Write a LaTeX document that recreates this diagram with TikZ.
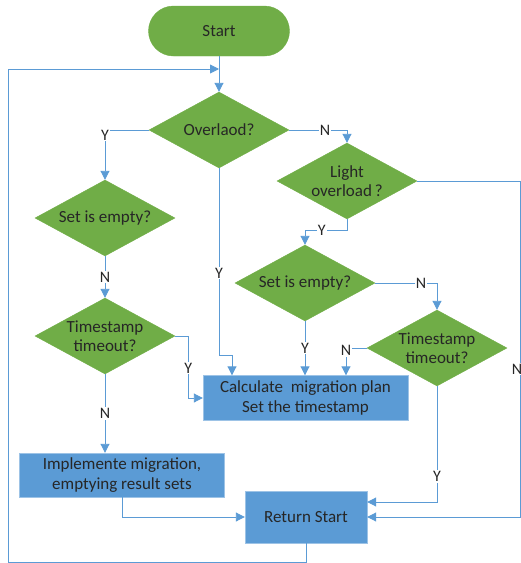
\documentclass[tikz,border=0pt]{standalone}
\usepackage{fontspec}
\setmainfont{Carlito}
\usepackage{tikz}
\usetikzlibrary{positioning}
\usetikzlibrary{arrows.meta}
\usetikzlibrary{shapes.geometric, calc}
\definecolor{flowgreen}{HTML}{70AD47}
\definecolor{flowblue}{HTML}{5B9BD5}
\definecolor{lineblue}{HTML}{5B9BD5}

\begin{document}
\begin{tikzpicture}[x=1pt, y=-1pt,
				startbox/.style={rectangle, rounded corners=25pt, fill=flowgreen, draw=flowgreen, minimum width=141pt, minimum height=50pt, font=\fontsize{17}{19}\selectfont, text=black!85},
				decision/.style={diamond, fill=flowgreen, draw=flowgreen, aspect=1.84, inner sep=-4pt, minimum width=140pt, minimum height=76pt, font=\fontsize{17}{19}\selectfont, text=black!85, align=center},
				stepbox/.style={rectangle, fill=flowblue, draw=flowblue!60!white, font=\fontsize{17}{20}\selectfont, text=black!85, align=center},
				arrow/.style={-{Triangle[length=9pt, width=9pt]}, lineblue, line width=0.9pt},
				lbl/.style={fill=white, inner sep=1pt, font=\fontsize{16}{18}\selectfont, text=black!85}
			]
			\useasboundingbox (0,0) rectangle (521,563);

			\node[startbox] (start) at (219,31) {Start};
			\node[decision] (over) at (219,130) {Overlaod?};
			\node[decision] (sleft) at (105,218) {Set is empty?};
			\node[decision] (tleft) at (105,336) {Timestamp\\timeout?};
			\node[decision] (light) at (347,181) {Light\\overload\,?};
			\node[decision] (sright) at (305,283) {Set is empty?};
			\node[decision] (tright) at (437,348) {Timestamp\\timeout?};
			\node[stepbox, minimum width=205pt, minimum height=45pt] (calc) at (305.5,398) {Calculate~ migration plan\\Set the timestamp};
			\node[stepbox, minimum width=205pt, minimum height=44pt] (impl) at (122,475) {Implemente migration,\\emptying result sets};
			\node[stepbox, minimum width=122pt, minimum height=52pt] (ret) at (306,517) {Return Start};

			\coordinate (join) at (219,69);
			\coordinate (loopbl) at (8,562);
			\coordinate (rr) at (520,517);

			\draw[arrow] (start) -- (over);
			\draw[arrow] (ret.south) |- (loopbl) |- (join);
			\draw[arrow] (over.west) -| (sleft.north) node[lbl, pos=0.55] {Y};
			\draw[arrow] (sleft) -- (tleft) node[lbl, midway] {N};
			\draw[arrow] (tleft.south) -- (tleft.south |- impl.north) node[lbl, midway] {N};
			\draw[arrow] (tleft.east) -- ++(13,0) |- (calc.west) node[lbl, pos=0.26] {Y};
			\draw[arrow] (impl.south) |- (ret.west);
			\draw[arrow] (over.south) |- ($(calc.north)+(-73.5,-20)$) node[lbl, pos=0.28] {Y} -- ($(calc.north)+(-73.5,0)$);
			\draw[arrow] (over.east) -| (light.north) node[lbl, pos=0.31] {N};
			\draw[arrow] (light.south) -- ++(0,11) -| (sright.north) node[lbl, pos=0.3] {Y};
			\draw[arrow] (light.east) -| (rr) node[lbl, pos=0.78, xshift=-3pt] {N} -- (ret.east);
			\draw[arrow] (sright.south) -- (sright.south |- calc.north) node[lbl, midway] {Y};
			\draw[arrow] (sright.east) -| (tright.north) node[lbl, pos=0.37] {N};
			\draw[arrow] (tright.west) -| ($(calc.north)+(40.5,0)$) node[lbl, pos=0.55] {N};
			\draw[arrow] (tright.south) |- ($(ret.east)+(0,-15)$) node[lbl, pos=0.39] {Y};

		\end{tikzpicture}
\end{document}
